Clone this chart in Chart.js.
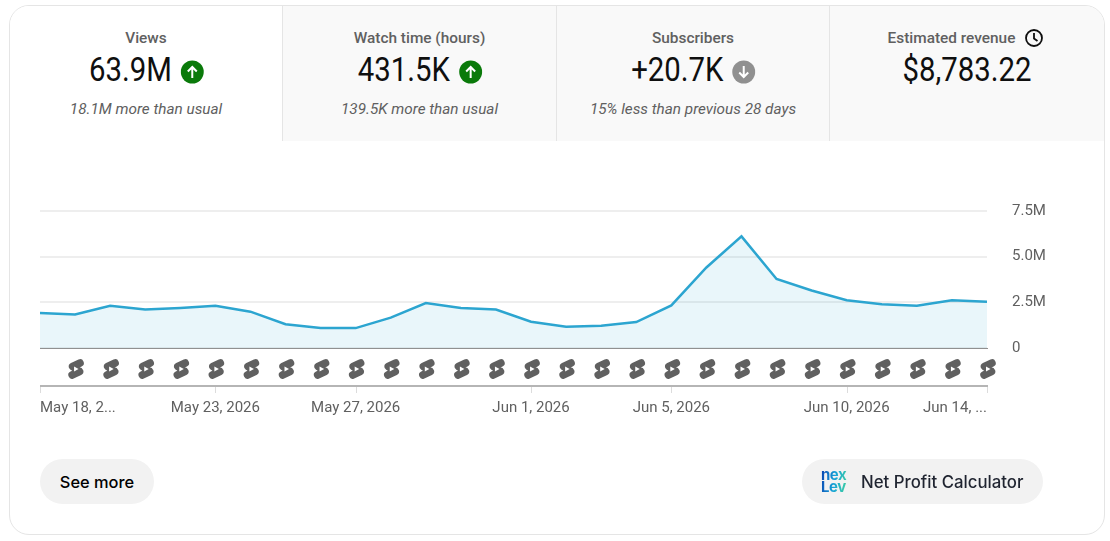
<!DOCTYPE html>
<html>
<head>
<meta charset="utf-8">
<script src="https://cdn.jsdelivr.net/npm/chart.js@4/dist/chart.umd.min.js"></script>
<style>
  html, body { margin: 0; padding: 0; background: #fff; }
  body { width: 1110px; height: 541px; position: relative; overflow: hidden; font-family: Roboto, sans-serif; }
  #card { position: absolute; left: 9px; top: 5px; width: 1094px; height: 528px; border: 1px solid #e5e5e5; border-radius: 20px; overflow: hidden; }
  .tab { position: absolute; top: 0; height: 135px; background: #f9f9f9; border-left: 1px solid #e5e5e5; box-sizing: border-box; text-align: center; }
  .tab.first { background: #fff; border-left: none; }
  .tab .name { position: absolute; left: 0; right: 0; top: 23px; height: 18px; font-size: 15.4px; line-height: 18px; font-weight: 500; color: #606060; }
  .tab .num { position: absolute; left: 0; right: 0; top: 44px; font-size: 33px; line-height: 40px; color: #0f0f0f; transform: scaleX(0.89); }
  .tab .num svg { vertical-align: -3px; margin-left: 3px; transform: scaleX(1.12); }
  .tab .note { position: absolute; left: 0; right: 0; top: 94px; font-size: 15.3px; line-height: 18px; font-style: italic; color: #606060; }
  .tab .name svg { position: absolute; top: -1px; margin-left: 9px; }
  #chartBox { position: absolute; left: 0; top: 141px; width: 1110px; height: 322px; }
  .btn { position: absolute; top: 459px; height: 45px; border-radius: 23px; background: #f2f2f2; line-height: 46px; font-weight: 500; color: #0f0f0f; }
  #seeMore { left: 40px; width: 114px; text-align: center; font-family: Inter, Roboto, sans-serif; font-size: 16.4px; color: #000; }
  #calc { left: 802px; width: 241px; font-family: Inter, Roboto, sans-serif; color: #1f2430; font-size: 16.8px; }
  #calc .txt { position: absolute; left: 59px; top: 0; white-space: nowrap; }
  #calc .logo { position: absolute; left: 19px; top: 10px; width: 30px; font-size: 15px; line-height: 12px; font-weight: 700; letter-spacing: -0.5px;
    background: linear-gradient(100deg, #0b3fb0, #16a3d8 45%, #4fe08c); -webkit-background-clip: text; background-clip: text; color: transparent; }
</style>
</head>
<body>
<div id="card">
  <div class="tab first" style="left:0;width:272px">
    <div class="name">Views</div>
    <div class="num">63.9M <svg width="24" height="24" viewBox="0 0 24 24"><circle cx="12" cy="12" r="11.5" fill="#0a7a0a"/><path d="M12 18V7M7.5 11.5L12 7l4.500 4.500" stroke="#fff" stroke-width="2" fill="none"/></svg></div>
    <div class="note">18.1M more than usual</div>
  </div>
  <div class="tab" style="left:272px;width:274px">
    <div class="name">Watch time (hours)</div>
    <div class="num">431.5K <svg width="24" height="24" viewBox="0 0 24 24"><circle cx="12" cy="12" r="11.5" fill="#0a7a0a"/><path d="M12 18V7M7.5 11.5L12 7l4.500 4.500" stroke="#fff" stroke-width="2" fill="none"/></svg></div>
    <div class="note">139.5K more than usual</div>
  </div>
  <div class="tab" style="left:546px;width:273px">
    <div class="name">Subscribers</div>
    <div class="num">+20.7K <svg width="24" height="24" viewBox="0 0 24 24"><circle cx="12" cy="12" r="11.5" fill="#909090"/><path d="M12 6v11M7.500 12.500L12 17l4.500-4.500" stroke="#fff" stroke-width="2" fill="none"/></svg></div>
    <div class="note">15% less than previous 28 days</div>
  </div>
  <div class="tab" style="left:819px;width:275px">
    <div class="name" style="padding-right:31px">Estimated revenue<svg width="20" height="20" viewBox="0 0 20 20"><circle cx="10" cy="10" r="8" stroke="#0f0f0f" stroke-width="1.800" fill="none"/><path d="M10 5v5.500l3.500 2.500" stroke="#0f0f0f" stroke-width="1.800" fill="none"/></svg></div>
    <div class="num">$8,783.22</div>
  </div>
</div>
<div id="chartBox"><canvas id="chart"></canvas></div>
<div class="btn" id="seeMore">See more</div>
<div class="btn" id="calc"><span class="logo">nex<br>Lev</span><span class="txt">Net Profit Calculator</span></div>
<script>
const dates = ['May 18, 2026','May 19, 2026','May 20, 2026','May 21, 2026','May 22, 2026','May 23, 2026','May 24, 2026',
  'May 25, 2026','May 26, 2026','May 27, 2026','May 28, 2026','May 29, 2026','May 30, 2026','May 31, 2026',
  'Jun 1, 2026','Jun 2, 2026','Jun 3, 2026','Jun 4, 2026','Jun 5, 2026','Jun 6, 2026','Jun 7, 2026',
  'Jun 8, 2026','Jun 9, 2026','Jun 10, 2026','Jun 11, 2026','Jun 12, 2026','Jun 13, 2026','Jun 14, 2026'];
const views = [1.92,1.84,2.31,2.11,2.19,2.31,1.99,1.30,1.09,1.09,1.66,2.46,2.19,2.11,
  1.44,1.17,1.22,1.42,2.33,4.41,6.11,3.78,3.15,2.61,2.39,2.31,2.61,2.53];
const xTickIndexes = [0,5,9,14,18,23,27];
const xTickLabels = ['May 18, 2...','May 23, 2026','May 27, 2026','Jun 1, 2026','Jun 5, 2026','Jun 10, 2026','Jun 14, ...'];
const yTicks = [0,2.5,5,7.5];
const yTickLabels = ['0','2.5M','5.0M','7.5M'];

// shorts icon row and the second axis line under the plot
const shortsRow = {
  id: 'shortsRow',
  afterDraw(chart) {
    const ctx = chart.ctx;
    const x = chart.scales.x;
    const top = chart.chartArea.bottom;
    ctx.save();
    ctx.fillStyle = '#b5b5b5';
    ctx.fillRect(x.left, top + 37, x.right - x.left + 1, 2);
    ctx.fillStyle = '#dcdcdc';
    xTickIndexes.forEach(i => ctx.fillRect(Math.round(x.getPixelForValue(i)), top + 39, 1, 6));
    views.forEach((v, i) => {
      if (i === 0) return;
      const cx = x.getPixelForValue(i) + 1;
      const cy = top + 21;
      ctx.strokeStyle = '#606060';
      ctx.lineWidth = 7.5;
      ctx.lineCap = 'round';
      ctx.beginPath();
      ctx.moveTo(cx - 3.500, cy - 2.500);
      ctx.lineTo(cx + 4, cy - 6);
      ctx.moveTo(cx - 4, cy + 6);
      ctx.lineTo(cx + 3.500, cy + 2.500);
      ctx.moveTo(cx - 3.500, cy - 2.500);
      ctx.lineTo(cx + 3.500, cy + 2.500);
      ctx.stroke();
      ctx.fillStyle = '#fff';
      ctx.beginPath();
      ctx.moveTo(cx - 2, cy - 2.500);
      ctx.lineTo(cx + 2.500, cy);
      ctx.lineTo(cx - 2, cy + 2.500);
      ctx.fill();
    });
    ctx.restore();
  }
};

new Chart(document.getElementById('chart'), {
  type: 'line',
  data: {
    labels: dates,
    datasets: [{
      data: views,
      borderColor: '#2ca5d0',
      borderWidth: 2.5,
      backgroundColor: 'rgba(44,165,208,0.1)',
      fill: 'origin',
      tension: 0,
      pointRadius: 0
    }]
  },
  plugins: [shortsRow],
  options: {
    responsive: true,
    maintainAspectRatio: false,
    animation: false,
    layout: { padding: { left: 40, top: 70, right: 0, bottom: 0 } },
    plugins: { legend: { display: false }, tooltip: { enabled: false } },
    scales: {
      x: {
        afterFit: axis => {
          axis.height = 115;
          axis.paddingLeft = 0;
          axis.paddingRight = 0;
        },
        grid: { display: false, drawTicks: false },
        border: { display: true, color: '#909090', width: 1 },
        ticks: {
          autoSkip: false,
          maxRotation: 0,
          align: 'inner',
          padding: 51,
          color: '#606060',
          font: { family: 'Roboto', size: 15 },
          callback: (val, i) => {
            const k = xTickIndexes.indexOf(i);
            return k < 0 ? '' : xTickLabels[k];
          }
        }
      },
      y: {
        position: 'right',
        min: 0,
        max: 7.5,
        afterBuildTicks: axis => { axis.ticks = yTicks.map(value => ({ value })); },
        afterFit: axis => { axis.width = 123; },
        grid: { color: '#eeeeee', lineWidth: 2, drawTicks: false },
        border: { display: false },
        ticks: {
          padding: 25,
          align: 'center',
          color: '#606060',
          font: { family: 'Roboto', size: 15 },
          callback: val => yTickLabels[yTicks.indexOf(val)]
        }
      }
    }
  }
});
</script>
</body>
</html>
